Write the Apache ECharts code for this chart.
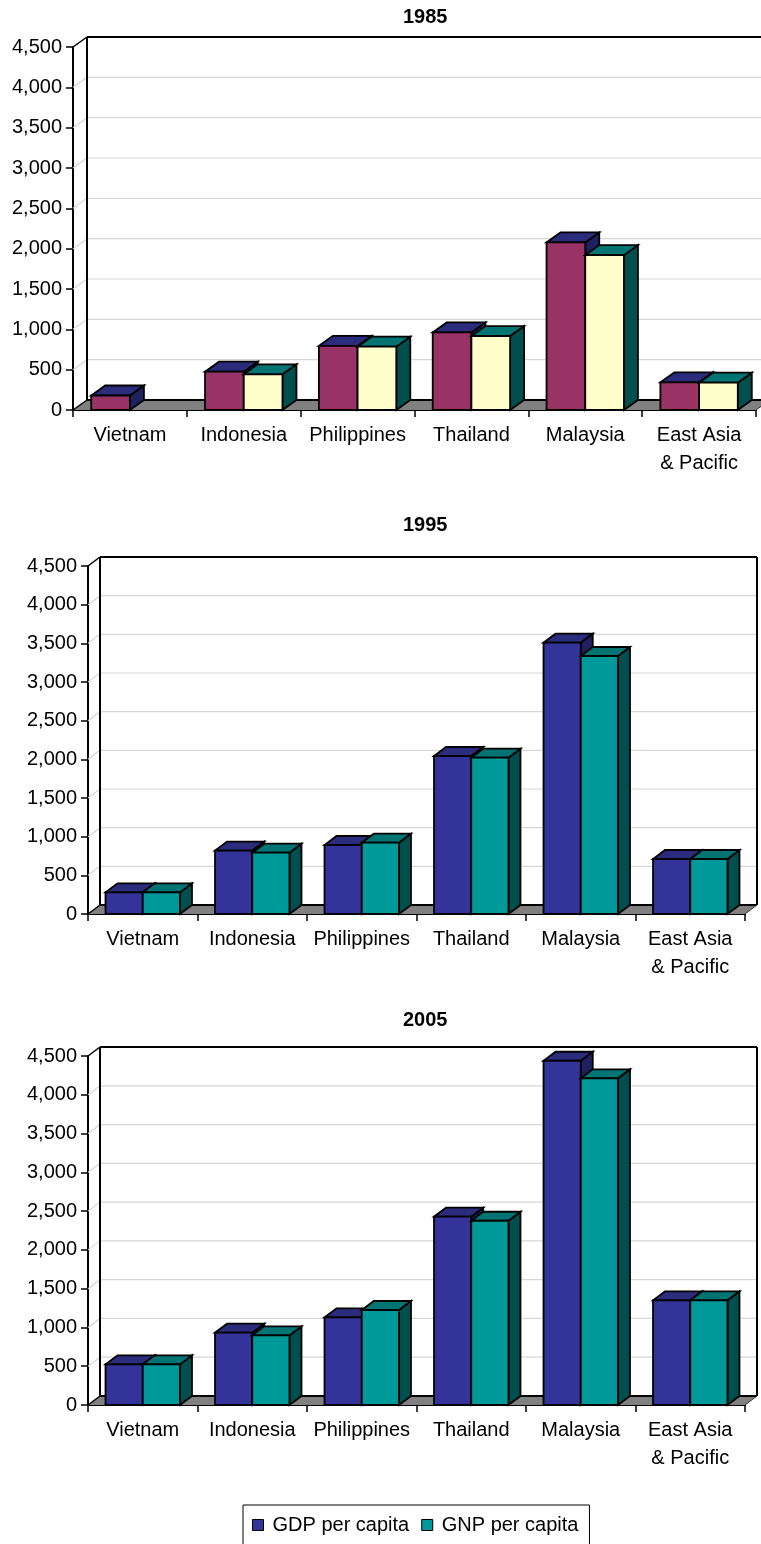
<!DOCTYPE html>
<html>
<head>
<meta charset="utf-8">
<title>GDP and GNP per capita, 1985-2005</title>
<script src="https://cdn.jsdelivr.net/npm/echarts@6/dist/echarts.min.js"></script>
<style>
  html, body { margin: 0; padding: 0; background: #fff; }
  #chart { width: 761px; height: 1544px; }
</style>
</head>
<body>
<div id="chart"></div>
<script>
// ---- data (US$ per capita) ----
const categories = ['Vietnam', 'Indonesia', 'Philippines', 'Thailand', 'Malaysia', 'East Asia\n& Pacific'];
const yTicks = [0, 500, 1000, 1500, 2000, 2500, 3000, 3500, 4000, 4500];
const years = ['1985', '1995', '2005'];
const seriesNames = ['GDP per capita', 'GNP per capita'];

const gdp1985 = [180, 475, 795, 962, 2077, 343];
const gnp1985 = [null, 442, 785, 917, 1920, 339];
const gdp1995 = [280, 820, 892, 2043, 3508, 711];
const gnp1995 = [280, 793, 922, 2021, 3336, 711];
const gdp2005 = [524, 932, 1131, 2428, 4439, 1350];
const gnp2005 = [524, 898, 1225, 2376, 4212, 1350];

const gdpByYear = [gdp1985, gdp1995, gdp2005];
const gnpByYear = [gnp1985, gnp1995, gnp2005];

// ---- layout and styling of the three panels ----
const FONT = '"Liberation Sans", Arial, sans-serif';
const BAR_FRACTION = 0.34;              // width of one bar as a share of a category band
const panels = [
  { left: 73, top: 47,   width: 683, height: 363, depth: [14, 10], titleTop: 7,    faces: ['#993366', '#FFFFCC'] },
  { left: 88, top: 566,  width: 657, height: 348, depth: [12, 9],  titleTop: 515,  faces: ['#333399', '#009999'] },
  { left: 88, top: 1056, width: 657, height: 349, depth: [12, 9],  titleTop: 1010, faces: ['#333399', '#009999'] }
];
const tops  = ['#2c2c7c', '#007373'];
const sides = ['#202060', '#004f4f'];

// Back wall, side wall gridlines and the grey floor, drawn through the axis scales.
function frameSeries(p, idx) {
  const [dx, dy] = p.depth;
  return {
    type: 'custom',
    xAxisIndex: idx, yAxisIndex: idx,
    z: 1, silent: true,
    data: yTicks.map(v => [0, v]),
    renderItem(params, api) {
      const cs = params.coordSys;
      const v = api.value(1);
      const y = api.coord([0, v])[1];
      const y0 = api.coord([0, 0])[1];
      const xl = cs.x, xr = cs.x + cs.width;
      const yMax = api.coord([0, yTicks[yTicks.length - 1]])[1];
      const kids = [];
      if (v === 0) {
        kids.push({ type: 'polygon', shape: { points: [[xl, y0], [xr, y0], [xr + dx, y0 - dy], [xl + dx, y0 - dy]] },
                    style: { fill: '#808080', stroke: null } });
        kids.push({ type: 'line', shape: { x1: xl + dx, y1: y0 - dy, x2: xr + dx, y2: y0 - dy },
                    style: { stroke: '#000', lineWidth: 2 } });
        kids.push({ type: 'line', shape: { x1: xl, y1: y0, x2: xl + dx, y2: y0 - dy },
                    style: { stroke: '#000', lineWidth: 1.5 } });
        kids.push({ type: 'line', shape: { x1: xr, y1: y0, x2: xr + dx, y2: y0 - dy },
                    style: { stroke: '#333', lineWidth: 1 } });
      } else if (v === yTicks[yTicks.length - 1]) {
        kids.push({ type: 'line', shape: { x1: xl + dx, y1: y - dy, x2: xr + dx, y2: y - dy },
                    style: { stroke: '#000', lineWidth: 2 } });
        kids.push({ type: 'line', shape: { x1: xl, y1: y, x2: xl + dx, y2: y - dy },
                    style: { stroke: '#000', lineWidth: 1.5 } });
        kids.push({ type: 'line', shape: { x1: xl + dx, y1: yMax - dy, x2: xl + dx, y2: y0 - dy },
                    style: { stroke: '#000', lineWidth: 2 } });
        kids.push({ type: 'line', shape: { x1: xr + dx, y1: yMax - dy, x2: xr + dx, y2: y0 - dy },
                    style: { stroke: '#000', lineWidth: 2 } });
      } else {
        kids.push({ type: 'line', shape: { x1: xl + dx, y1: y - dy, x2: xr + dx, y2: y - dy },
                    style: { stroke: '#d6d6d6', lineWidth: 1.2 } });
        kids.push({ type: 'line', shape: { x1: xl, y1: y, x2: xl + dx, y2: y - dy },
                    style: { stroke: '#d6d6d6', lineWidth: 1.2 } });
      }
      return { type: 'group', children: kids };
    }
  };
}

// One series of 3D-looking boxes; slot 0 sits left of the category centre, slot 1 right of it.
function boxSeries(p, idx, slot, values) {
  const [dx, dy] = p.depth;
  const face = p.faces[slot], top = tops[slot], side = sides[slot];
  return {
    type: 'custom',
    name: seriesNames[slot],
    xAxisIndex: idx, yAxisIndex: idx,
    z: 3 + slot,
    itemStyle: { color: face },
    data: values.map((v, i) => [i, v]),
    renderItem(params, api) {
      const v = api.value(1);
      if (!(v > 0)) return null;
      const i = api.value(0);
      const w = api.size([1, 0])[0] * BAR_FRACTION;
      const c0 = api.coord([i, 0]);
      const c1 = api.coord([i, v]);
      const x0 = c0[0] - w + slot * w, x1 = x0 + w;
      const yb = c0[1], yt = c1[1];
      const st = { stroke: '#000', lineWidth: 1.8, lineJoin: 'miter' };
      return {
        type: 'group',
        children: [
          { type: 'polygon', shape: { points: [[x1, yt], [x1 + dx, yt - dy], [x1 + dx, yb - dy], [x1, yb]] },
            style: Object.assign({ fill: side }, st) },
          { type: 'polygon', shape: { points: [[x0, yt], [x1, yt], [x1 + dx, yt - dy], [x0 + dx, yt - dy]] },
            style: Object.assign({ fill: top }, st) },
          { type: 'rect', shape: { x: x0, y: yt, width: w, height: yb - yt },
            style: Object.assign({ fill: face }, st) }
        ]
      };
    }
  };
}

const axisLine = { show: true, lineStyle: { color: '#000', width: 2 } };
const tickStyle = { color: '#000', width: 1.5 };

const option = {
  animation: false,
  backgroundColor: '#fff',
  title: panels.map((p, k) => ({
    text: years[k],
    left: 403, top: p.titleTop,
    padding: 0,
    textStyle: { fontFamily: FONT, fontSize: 20, fontWeight: 'bold', color: '#000' }
  })),
  legend: {
    left: 243, top: 1505,
    orient: 'horizontal',
    icon: 'rect',
    itemWidth: 11, itemHeight: 11, itemGap: 12,
    padding: [10, 11, 10, 9],
    borderColor: '#000', borderWidth: 1, borderRadius: 0,
    selectedMode: false,
    textStyle: { fontFamily: FONT, fontSize: 20, color: '#000', padding: [0, 0, 0, 4] },
    data: [
      { name: seriesNames[0], itemStyle: { color: '#333399', borderColor: '#000', borderWidth: 1 } },
      { name: seriesNames[1], itemStyle: { color: '#009999', borderColor: '#000', borderWidth: 1 } }
    ]
  },
  grid: panels.map(p => ({ left: p.left, top: p.top, width: p.width, height: p.height, containLabel: false })),
  xAxis: panels.map((p, k) => ({
    type: 'category', gridIndex: k, data: categories,
    axisLine: axisLine,
    axisTick: { show: true, length: 7, lineStyle: tickStyle },
    axisLabel: { interval: 0, color: '#000', fontFamily: FONT, fontSize: 20, lineHeight: 28, margin: 11 },
    splitLine: { show: false }
  })),
  yAxis: panels.map((p, k) => ({
    type: 'value', gridIndex: k, min: yTicks[0], max: yTicks[yTicks.length - 1], interval: 500,
    axisLine: axisLine,
    axisTick: { show: true, length: 7, lineStyle: tickStyle },
    axisLabel: { color: '#000', fontFamily: FONT, fontSize: 20, margin: 11,
                 formatter: v => v.toLocaleString('en-US') },
    splitLine: { show: false }
  })),
  series: []
};

panels.forEach((p, k) => {
  option.series.push(frameSeries(p, k));
  option.series.push(boxSeries(p, k, 0, gdpByYear[k]));
  option.series.push(boxSeries(p, k, 1, gnpByYear[k]));
});

const chart = echarts.init(document.getElementById('chart'), null, { renderer: 'canvas' });
chart.setOption(option);
</script>
</body>
</html>
